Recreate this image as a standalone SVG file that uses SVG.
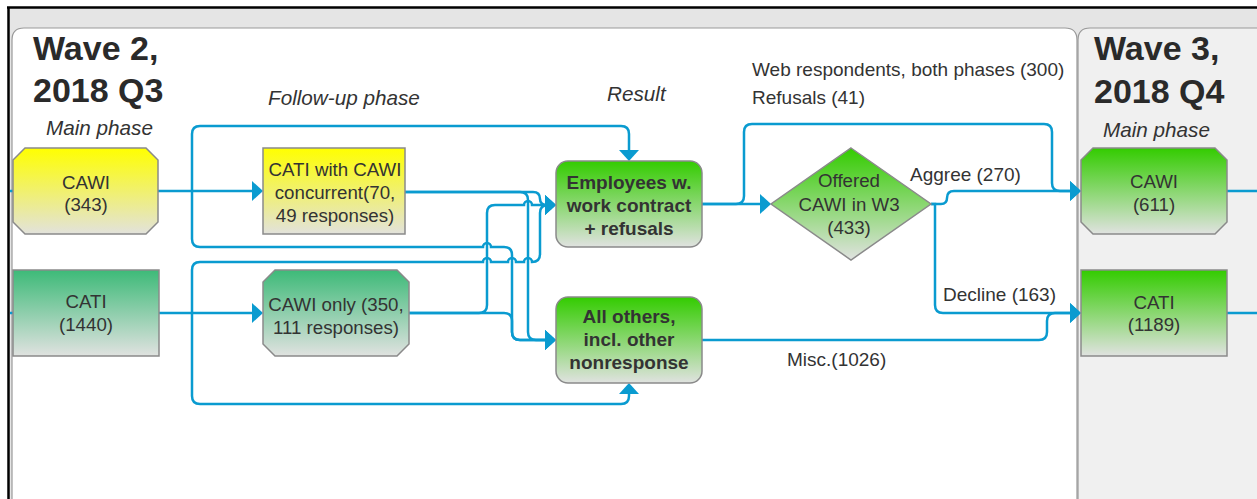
<svg xmlns="http://www.w3.org/2000/svg" width="1257" height="499" viewBox="0 0 1257 499">
<defs>
<linearGradient id="gYellow" x1="0" y1="0" x2="0" y2="1"><stop offset="0" stop-color="#ffff00"/><stop offset="1" stop-color="#e2e2dc"/></linearGradient>
<linearGradient id="gTeal" x1="0" y1="0" x2="0" y2="1"><stop offset="0" stop-color="#3dba78"/><stop offset="1" stop-color="#e0e2e0"/></linearGradient>
<linearGradient id="gGreen" x1="0" y1="0" x2="0" y2="1"><stop offset="0" stop-color="#33cc00"/><stop offset="1" stop-color="#e0e2e0"/></linearGradient>
<marker id="arr" markerUnits="userSpaceOnUse" markerWidth="12" markerHeight="20" refX="6" refY="10" orient="auto"><path d="M0,0 L11,10 L0,20 Z" fill="#0a9bd0"/></marker>
<style>
.node{stroke:#8a8a8a;stroke-width:1.5}
.t{font-family:"Liberation Sans",Arial,sans-serif;font-size:18.7px;fill:#333;text-anchor:middle}
.b{font-weight:bold;font-size:19px}
.lbl{font-family:"Liberation Sans",Arial,sans-serif;font-size:19px;fill:#333}
.title{font-family:"Liberation Sans",Arial,sans-serif;font-size:34px;font-weight:bold;fill:#2a2a2a}
.ph{font-family:"Liberation Sans",Arial,sans-serif;font-size:20.7px;font-style:italic;fill:#333}
.c{fill:none;stroke:#0a9bd0;stroke-width:2.5}
.ca{fill:none;stroke:#0a9bd0;stroke-width:2.5;marker-end:url(#arr)}
</style>
</defs>
<rect x="0" y="0" width="1257" height="499" fill="#ffffff"/>
<g id="frame">
<rect x="9" y="8" width="1248" height="491" fill="#e5e5e5"/>
<path d="M12,500 V40 Q12,28 24,28 H1065 Q1077,28 1077,40 V500" fill="#ffffff" stroke="#999" stroke-width="1.2"/>
<path d="M1078,500 V40 Q1078,28 1090,28 H1258 V500" fill="#f0f0f0" stroke="#999" stroke-width="1.2"/>
<line x1="8.5" y1="7" x2="8.5" y2="499" stroke="#000" stroke-width="2.5"/>
<line x1="7" y1="7.5" x2="1257" y2="7.5" stroke="#000" stroke-width="2.5"/>
</g>
<g id="headings">
<text class="title" x="33" y="60">Wave 2,</text>
<text class="title" x="33" y="102">2018 Q3</text>
<text class="ph" x="46" y="135">Main phase</text>
<text class="ph" x="268" y="105">Follow-up phase</text>
<text class="ph" x="607" y="101">Result</text>
<text class="title" x="1094" y="60">Wave 3,</text>
<text class="title" x="1094" y="103">2018 Q4</text>
<text class="ph" x="1103" y="137">Main phase</text>
</g>
<g id="connectors">
<path class="c" d="M10,191 H13"/>
<path class="c" d="M10,313 H13"/>
<path class="ca" d="M158,191 H258"/>
<path class="ca" d="M192,191 V134 Q192,126 200,126 H621 Q629,126 629,134 V156"/>
<path class="ca" d="M192,191 V239 Q192,247 200,247 H483 A4,4 0 0 1 491,247 H504 Q512,247 512,255 V332 Q512,340 520,340 H551"/>
<path class="ca" d="M159,313 H258"/>
<path class="ca" d="M192,313 V270 Q192,262 200,262 H483 A4,4 0 0 1 491,262 H508 A4,4 0 0 1 516,262 H524 A4,4 0 0 1 532,262 Q540,262 540,254 V213 Q540,205 548,205 H551"/>
<path class="ca" d="M192,313 V396 Q192,404 200,404 H621 Q629,404 629,396 V388"/>
<path class="ca" d="M405,192 H533 Q540,192 540,199 Q540,205 547,205 H551"/>
<path class="ca" d="M405,192 H520 Q528,192 528,200 V332 Q528,340 536,340 H551"/>
<path class="ca" d="M409,313 H479 Q487,313 487,305 V213 Q487,205 495,205 H524 A4,4 0 0 1 532,205 H551"/>
<path class="ca" d="M409,313 H504 Q512,313 512,321 V332 Q512,340 520,340 H551"/>
<path class="ca" d="M702,204 H766"/>
<path class="ca" d="M702,204 H736 Q744,204 744,196 V132 Q744,124 752,124 H1044 Q1052,124 1052,132 V183 Q1052,191 1060,191 H1076"/>
<path class="ca" d="M931,204 H941 Q947,204 947,198 Q947,191 954,191 H1076"/>
<path class="ca" d="M931,204 H935 V305 Q935,313 943,313 H1076"/>
<path class="ca" d="M702,340 H1039 Q1047,340 1047,332 V321 Q1047,313 1055,313 H1076"/>
<path class="c" d="M1227,191 H1257"/>
<path class="c" d="M1227,313 H1257"/>
</g>
<g id="labels">
<text class="lbl" x="752" y="76">Web respondents, both phases (300)</text>
<text class="lbl" x="752" y="104">Refusals (41)</text>
<text class="lbl" x="910" y="181">Aggree (270)</text>
<text class="lbl" x="943" y="301">Decline (163)</text>
<text class="lbl" x="787" y="366">Misc.(1026)</text>
</g>
<g id="w2-cawi">
<path class="node" fill="url(#gYellow)" d="M25,148 H146 L158,160 V222 L146,234 H25 L13,222 V160 Z"/>
<text class="t" x="86" y="189">CAWI</text>
<text class="t" x="86" y="211">(343)</text>
</g>
<g id="w2-cati">
<rect class="node" fill="url(#gTeal)" x="13" y="270" width="146" height="86"/>
<text class="t" x="86" y="308">CATI</text>
<text class="t" x="86" y="331">(1440)</text>
</g>
<g id="cati-with-cawi">
<rect class="node" fill="url(#gYellow)" x="263" y="148" width="142" height="86"/>
<text class="t" x="335" y="176">CATI with CAWI</text>
<text class="t" x="335" y="199">concurrent(70,</text>
<text class="t" x="335" y="222">49 responses)</text>
</g>
<g id="cawi-only">
<path class="node" fill="url(#gTeal)" d="M275,270 H397 L409,282 V344 L397,356 H275 L263,344 V282 Z"/>
<text class="t" x="336" y="311">CAWI only (350,</text>
<text class="t" x="336" y="334">111 responses)</text>
</g>
<g id="employees">
<rect class="node" fill="url(#gGreen)" x="556" y="161" width="146" height="86" rx="12"/>
<text class="t b" x="629" y="189">Employees w.</text>
<text class="t b" x="629" y="212">work contract</text>
<text class="t b" x="629" y="235">+ refusals</text>
</g>
<g id="all-others">
<rect class="node" fill="url(#gGreen)" x="556" y="297" width="146" height="86" rx="12"/>
<text class="t b" x="629" y="323">All others,</text>
<text class="t b" x="629" y="346">incl. other</text>
<text class="t b" x="629" y="369">nonresponse</text>
</g>
<g id="offered">
<path class="node" fill="url(#gGreen)" d="M851,148 L931,204 L851,260 L771,204 Z"/>
<text class="t" x="849" y="187">Offered</text>
<text class="t" x="849" y="211">CAWI in W3</text>
<text class="t" x="849" y="234">(433)</text>
</g>
<g id="w3-cawi">
<path class="node" fill="url(#gGreen)" d="M1093,148 H1215 L1227,160 V222 L1215,234 H1093 L1081,222 V160 Z"/>
<text class="t" x="1154" y="188">CAWI</text>
<text class="t" x="1154" y="211">(611)</text>
</g>
<g id="w3-cati">
<rect class="node" fill="url(#gGreen)" x="1081" y="270" width="146" height="86"/>
<text class="t" x="1154" y="309">CATI</text>
<text class="t" x="1154" y="331">(1189)</text>
</g>
</svg>
